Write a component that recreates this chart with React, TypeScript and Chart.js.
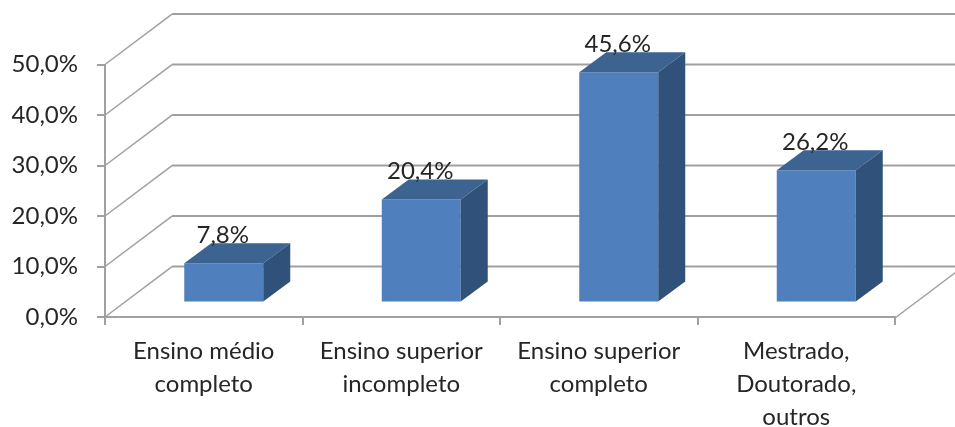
import React, { useEffect, useRef } from "react";
import { Chart, registerables } from "chart.js";

Chart.register(...registerables);

const categories = [
  ["Ensino médio", "completo"],
  ["Ensino superior", "incompleto"],
  ["Ensino superior", "completo"],
  ["Mestrado,", "Doutorado,", "outros"],
];
const shares = [7.8, 20.4, 45.6, 26.2];

const FONT = "Lato, Carlito, sans-serif";
const FONT_SIZE = 24;
const TEXT_COLOR = "#262626";
const GRID_COLOR = "#a0a0a0";
const FACE_COLOR = "#4f7fbc";
const TOP_COLOR = "#3d6391";
const SIDE_COLOR = "#30527a";

// Oblique projection: wall depth, and how far bars stand in from the front edge.
const WALL_DX = 67;
const WALL_DY = -50.4;
const BAR_DX = 27;
const BAR_DY = -20;
const INSET_DX = 20;
const INSET_DY = -14.4;

const percent = (v: number) => v.toFixed(1).replace(".", ",") + "%";

const polygon = (ctx: CanvasRenderingContext2D, pts: number[][], fill: string) => {
  ctx.beginPath();
  pts.forEach(([x, y], i) => (i ? ctx.lineTo(x, y) : ctx.moveTo(x, y)));
  ctx.closePath();
  ctx.fillStyle = fill;
  ctx.fill();
};

const box3d = {
  id: "box3d",
  beforeDatasetsDraw(chart: any) {
    const { ctx, chartArea, scales } = chart;
    const { left, right, bottom } = chartArea;
    ctx.save();
    ctx.strokeStyle = GRID_COLOR;
    // Wall gridlines, each with its diagonal running back from the value axis.
    scales.y.ticks.forEach((tick: any) => {
      const y = scales.y.getPixelForValue(tick.value);
      ctx.lineWidth = 1.5;
      ctx.beginPath();
      ctx.moveTo(left, y);
      ctx.lineTo(left + WALL_DX, y + WALL_DY);
      ctx.stroke();
      ctx.lineWidth = 2;
      ctx.beginPath();
      ctx.moveTo(left + WALL_DX, y + WALL_DY);
      ctx.lineTo(right + WALL_DX, y + WALL_DY);
      ctx.stroke();
    });
    // Right-hand edge of the floor.
    ctx.lineWidth = 1.5;
    ctx.beginPath();
    ctx.moveTo(right, bottom + 1);
    ctx.lineTo(right + WALL_DX, bottom + 1 + WALL_DY);
    ctx.stroke();
    ctx.restore();
    // The bars themselves are drawn standing in from the front edge.
    ctx.save();
    ctx.translate(INSET_DX, INSET_DY);
  },
  afterDatasetsDraw(chart: any) {
    const { ctx } = chart;
    const bars = chart.getDatasetMeta(0).data;
    bars.forEach((bar: any) => {
      const { x, y, base, width } = bar.getProps(["x", "y", "base", "width"], true);
      const l = x - width / 2;
      const r = x + width / 2;
      polygon(ctx, [[l, y], [r, y], [r + BAR_DX, y + BAR_DY], [l + BAR_DX, y + BAR_DY]], TOP_COLOR);
      polygon(ctx, [[r, y], [r + BAR_DX, y + BAR_DY], [r + BAR_DX, base + BAR_DY], [r, base]], SIDE_COLOR);
    });
    ctx.restore();
    ctx.save();
    ctx.font = `${FONT_SIZE}px ${FONT}`;
    ctx.fillStyle = TEXT_COLOR;
    ctx.textAlign = "center";
    ctx.textBaseline = "middle";
    bars.forEach((bar: any, i: number) => {
      const { x, y } = bar.getProps(["x", "y"], true);
      ctx.fillText(percent(shares[i]), x + INSET_DX - 1, y + INSET_DY - 28);
    });
    ctx.restore();
  },
};

export default function App() {
  const canvasRef = useRef<HTMLCanvasElement>(null);

  useEffect(() => {
    const chart = new Chart(canvasRef.current!, {
      type: "bar",
      data: {
        labels: categories,
        datasets: [
          {
            data: shares,
            backgroundColor: FACE_COLOR,
            barPercentage: 0.4,
            categoryPercentage: 1,
            clip: false,
          },
        ],
      },
      options: {
        animation: false,
        responsive: false,
        layout: { padding: { top: 64.5, right: 60, left: 0, bottom: 0 } },
        plugins: { legend: { display: false }, tooltip: { enabled: false } },
        scales: {
          x: {
            afterFit: (s: any) => {
              s.height = 110;
            },
            border: { color: GRID_COLOR, width: 2 },
            grid: { drawOnChartArea: false, color: GRID_COLOR, lineWidth: 2, tickLength: 8 },
            ticks: {
              autoSkip: false,
              maxRotation: 0,
              padding: 10,
              color: TEXT_COLOR,
              font: { family: FONT, size: FONT_SIZE, lineHeight: "33px" },
            },
          },
          y: {
            min: 0,
            max: 50,
            afterFit: (s: any) => {
              s.width = 105;
            },
            border: { color: GRID_COLOR, width: 2 },
            grid: { drawOnChartArea: false, color: GRID_COLOR, lineWidth: 2, tickLength: 8 },
            ticks: {
              stepSize: 10,
              padding: 19,
              color: TEXT_COLOR,
              font: { family: FONT, size: FONT_SIZE },
              callback: (v: any) => percent(Number(v)),
            },
          },
        },
      },
      plugins: [box3d],
    } as any);
    return () => chart.destroy();
  }, []);

  return (
    <div style={{ position: "absolute", left: 0, top: 0, background: "#fff" }}>
      <canvas ref={canvasRef} width={955} height={427} style={{ display: "block" }} />
    </div>
  );
}
